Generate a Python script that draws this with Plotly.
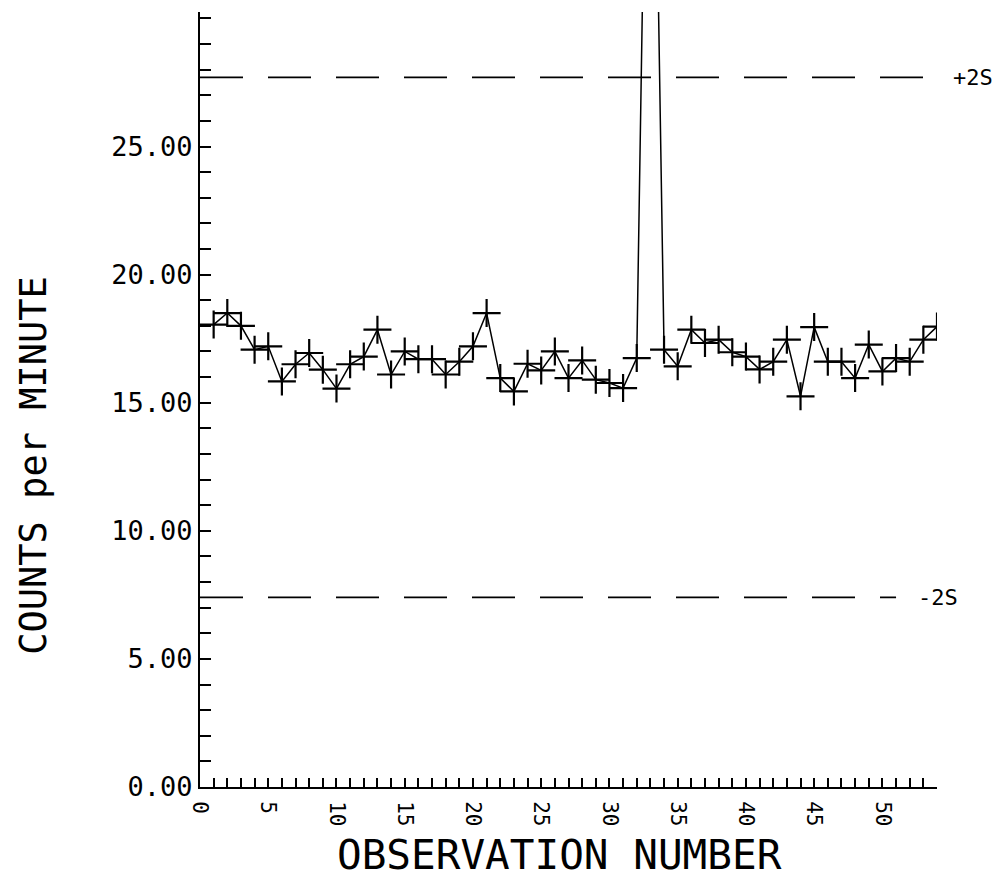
import plotly.graph_objects as go

# Observation numbers and counts per minute (obs 33 is far off-scale)
observation = list(range(1, 55))
counts = [
    18.05, 18.5, 18.0, 17.07, 17.2, 15.83, 16.5, 16.94, 16.29, 15.55,
    16.5, 16.8, 17.85, 16.1, 17.0, 16.7, 16.7, 16.1, 16.6, 17.2,
    18.5, 15.96, 15.44, 16.52, 16.26, 17.0, 15.96, 16.65, 15.9, 15.77,
    15.57, 16.74, 50.0, 17.07, 16.42, 17.85, 17.33, 17.46, 16.97, 16.8,
    16.3, 16.6, 17.46, 15.25, 17.95, 16.6, 16.6, 15.96, 17.27, 16.22,
    16.74, 16.6, 17.46, 17.97,
]
upper_limit = 27.7   # +2S
lower_limit = 7.4    # -2S
limit_labels = ["+2S", "-2S"]

y_ticks = [0, 5, 10, 15, 20, 25]
x_ticks = list(range(0, 51, 5))

FONT = "DejaVu Sans Mono"

fig = go.Figure()
fig.add_trace(go.Scatter(
    x=observation, y=counts, mode="lines+markers",
    line=dict(color="black", width=1.5),
    marker=dict(symbol="cross-thin", size=20,
                line=dict(color="black", width=2.2)),
    cliponaxis=True, showlegend=False,
))

fig.add_shape(type="line", xref="x", yref="y", x0=0, x1=54, y0=upper_limit, y1=upper_limit,
              line=dict(color="black", width=1.8, dash="43px,25px"))
fig.add_shape(type="line", xref="x", yref="y", x0=0, x1=51, y0=lower_limit, y1=lower_limit,
              line=dict(color="black", width=1.8, dash="43px,25px"))

fig.add_annotation(x=1.019, y=upper_limit, xref="paper", yref="y", text=limit_labels[0],
                   showarrow=False, xanchor="left", yanchor="middle",
                   font=dict(family=FONT, size=22, color="black"))
fig.add_annotation(x=0.972, y=lower_limit, xref="paper", yref="y", text=limit_labels[1],
                   showarrow=False, xanchor="left", yanchor="middle",
                   font=dict(family=FONT, size=22, color="black"))

# Axis titles as annotations (positioned as in the original)
fig.add_annotation(x=-0.226, y=0.415, xref="paper", yref="paper", text="COUNTS per MINUTE",
                   showarrow=False, textangle=-90, xanchor="center", yanchor="middle",
                   font=dict(family=FONT, size=37, color="black"))
fig.add_annotation(x=0.488, y=-0.088, xref="paper", yref="paper", text="OBSERVATION NUMBER",
                   showarrow=False, xanchor="center", yanchor="middle",
                   font=dict(family=FONT, size=41, color="black"))

fig.update_layout(
    width=997, height=874,
    paper_bgcolor="white", plot_bgcolor="white",
    margin=dict(l=192, r=68, t=4, b=95),
    font=dict(family=FONT, color="black"),
    xaxis=dict(
        range=[0, 54], showgrid=False, zeroline=False, automargin=False,
        showline=True, linecolor="black", linewidth=2,
        tickvals=x_ticks, ticks="inside", ticklen=9, tickwidth=1.5, tickcolor="black",
        minor=dict(dtick=1, tick0=0, ticks="inside", ticklen=9, tickwidth=1.5, tickcolor="black"),
        tickangle=90, tickfont=dict(family=FONT, size=21), ticklabelstandoff=8,
    ),
    yaxis=dict(
        range=[0, 30.25], showgrid=False, zeroline=False, automargin=False,
        showline=True, linecolor="black", linewidth=2,
        tickvals=y_ticks, tickformat=".2f", ticks="inside", ticklen=11, tickwidth=2, tickcolor="black",
        minor=dict(dtick=1, tick0=0, ticks="inside", ticklen=11, tickwidth=2, tickcolor="black"),
        tickfont=dict(family=FONT, size=27), ticklabelstandoff=0,
    ),
)

fig.write_html("out.html")
